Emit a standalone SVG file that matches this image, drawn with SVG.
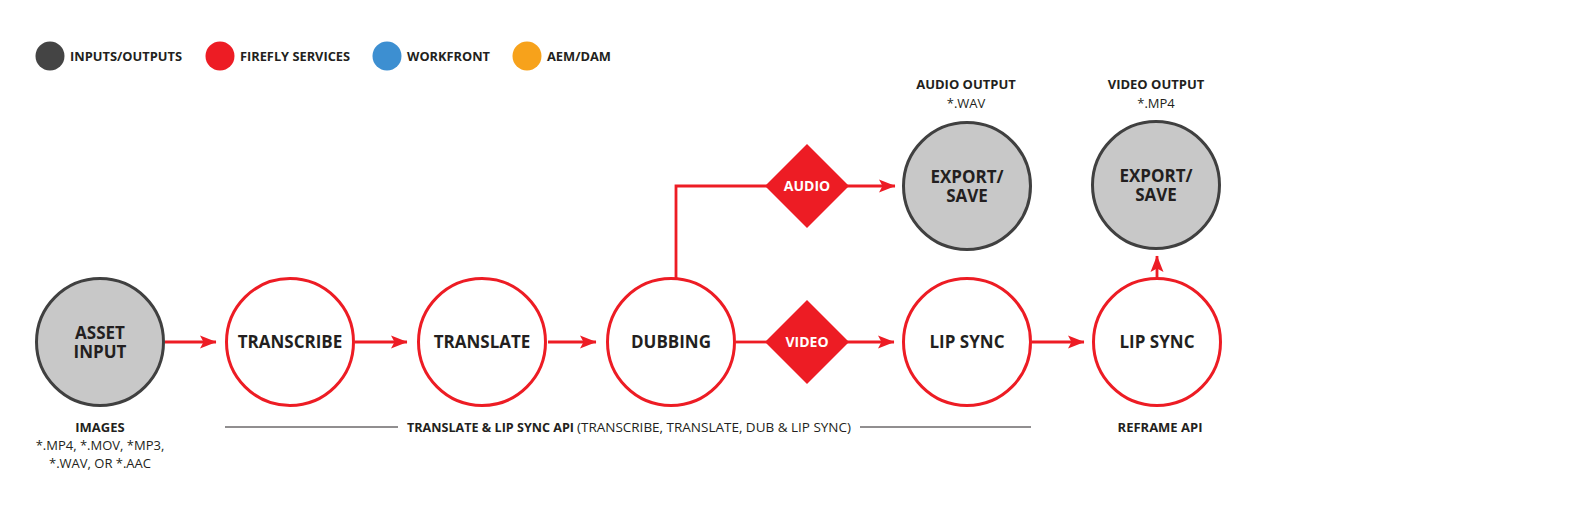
<svg xmlns="http://www.w3.org/2000/svg" width="1590" height="506" viewBox="0 0 1590 506">
<defs>
<style>
text{font-family:"Open Sans","Liberation Sans",sans-serif;fill:#231F20;text-anchor:middle}
.b{font-weight:700}
.n{font-size:17px;font-weight:700}
.s{font-size:13px}
.lg{font-size:13px;font-weight:700;text-anchor:start}
.gray{fill:#C8C8C8;stroke:#404040;stroke-width:3}
.red{fill:#FFFFFF;stroke:#ED1C24;stroke-width:3}
.dia{fill:#ED1C24}
.dl{font-size:14px;font-weight:700;fill:#FFFFFF}
.c{fill:none;stroke:#ED1C24;stroke-width:2.8}
.rule{stroke:#231F20;stroke-width:1}
</style>
<marker id="ah" markerUnits="userSpaceOnUse" markerWidth="17" markerHeight="14" refX="16" refY="7" orient="auto" viewBox="0 0 17 14">
<path d="M0,0.5 L16.5,7 L0,13.5 L3.5,7 Z" fill="#ED1C24"/>
</marker>
</defs>
<rect width="1590" height="506" fill="#FFFFFF"/>

<g id="legend">
<g id="legend-io"><circle cx="50" cy="56" r="14.5" fill="#444444"/><text class="lg" x="70" y="60.6" textLength="112" lengthAdjust="spacingAndGlyphs">INPUTS/OUTPUTS</text></g>
<g id="legend-firefly"><circle cx="220" cy="56" r="14.5" fill="#ED1C24"/><text class="lg" x="240" y="60.6" textLength="110" lengthAdjust="spacingAndGlyphs">FIREFLY SERVICES</text></g>
<g id="legend-workfront"><circle cx="387" cy="56" r="14.5" fill="#3D8FD1"/><text class="lg" x="407" y="60.6" textLength="83" lengthAdjust="spacingAndGlyphs">WORKFRONT</text></g>
<g id="legend-aem"><circle cx="527" cy="56" r="14.5" fill="#F7A21B"/><text class="lg" x="547" y="60.6" textLength="64" lengthAdjust="spacingAndGlyphs">AEM/DAM</text></g>
</g>

<g id="connectors">
<line class="c" x1="165" y1="342" x2="216" y2="342" marker-end="url(#ah)"/>
<line class="c" x1="355" y1="342" x2="407" y2="342" marker-end="url(#ah)"/>
<line class="c" x1="548" y1="342" x2="596" y2="342" marker-end="url(#ah)"/>
<line class="c" x1="736" y1="342" x2="768" y2="342"/>
<line class="c" x1="846" y1="342" x2="894" y2="342" marker-end="url(#ah)"/>
<path class="c" d="M676,278 V186 H768"/>
<line class="c" x1="846" y1="186" x2="895" y2="186" marker-end="url(#ah)"/>
<line class="c" x1="1032" y1="342" x2="1084" y2="342" marker-end="url(#ah)"/>
<line class="c" x1="1157" y1="277" x2="1157" y2="256" marker-end="url(#ah)"/>
</g>

<g id="asset-input">
<circle class="gray" cx="100" cy="342" r="63.5"/>
<text class="n" x="100" y="339"><tspan x="100">ASSET</tspan><tspan x="100" dy="19">INPUT</tspan></text>
<text class="s b" x="100" y="431.5">IMAGES</text>
<text class="s" x="100" y="449.5"><tspan x="100">*.MP4, *.MOV, *MP3,</tspan><tspan x="100" dy="18">*.WAV, OR *.AAC</tspan></text>
</g>

<g id="transcribe">
<circle class="red" cx="290" cy="342" r="63.5"/>
<text class="n" x="290" y="348">TRANSCRIBE</text>
</g>

<g id="translate">
<circle class="red" cx="482" cy="342" r="63.5"/>
<text class="n" x="482" y="348">TRANSLATE</text>
</g>

<g id="dubbing">
<circle class="red" cx="671" cy="342" r="63.5"/>
<text class="n" x="671" y="348">DUBBING</text>
</g>

<g id="audio-diamond">
<polygon class="dia" points="807,144 849,186 807,228 765,186"/>
<text class="dl" x="807" y="191">AUDIO</text>
</g>

<g id="video-diamond">
<polygon class="dia" points="807,300 849,342 807,384 765,342"/>
<text class="dl" x="807" y="347">VIDEO</text>
</g>

<g id="export-audio">
<circle class="gray" cx="967" cy="186" r="63.5"/>
<text class="n" x="967" y="183"><tspan x="967">EXPORT/</tspan><tspan x="967" dy="19">SAVE</tspan></text>
<text class="s b" x="966" y="88.5">AUDIO OUTPUT</text>
<text class="s" x="966" y="107.5">*.WAV</text>
</g>

<g id="lip-sync-1">
<circle class="red" cx="967" cy="342" r="63.5"/>
<text class="n" x="967" y="348">LIP SYNC</text>
</g>

<g id="lip-sync-2">
<circle class="red" cx="1157" cy="342" r="63.5"/>
<text class="n" x="1157" y="348">LIP SYNC</text>
<text class="s b" x="1160" y="431.5">REFRAME API</text>
</g>

<g id="export-video">
<circle class="gray" cx="1156" cy="185" r="63.5"/>
<text class="n" x="1156" y="182"><tspan x="1156">EXPORT/</tspan><tspan x="1156" dy="19">SAVE</tspan></text>
<text class="s b" x="1156" y="88.5">VIDEO OUTPUT</text>
<text class="s" x="1156" y="107.5">*.MP4</text>
</g>

<g id="api-label">
<line class="rule" x1="225" y1="427" x2="398" y2="427"/>
<line class="rule" x1="860" y1="427" x2="1031" y2="427"/>
<text class="s b" x="407" y="431.5" style="text-anchor:start" textLength="167" lengthAdjust="spacingAndGlyphs">TRANSLATE &amp; LIP SYNC API</text>
<text class="s" x="577" y="431.5" style="text-anchor:start" textLength="274" lengthAdjust="spacingAndGlyphs">(TRANSCRIBE, TRANSLATE, DUB &amp; LIP SYNC)</text>
</g>
</svg>
